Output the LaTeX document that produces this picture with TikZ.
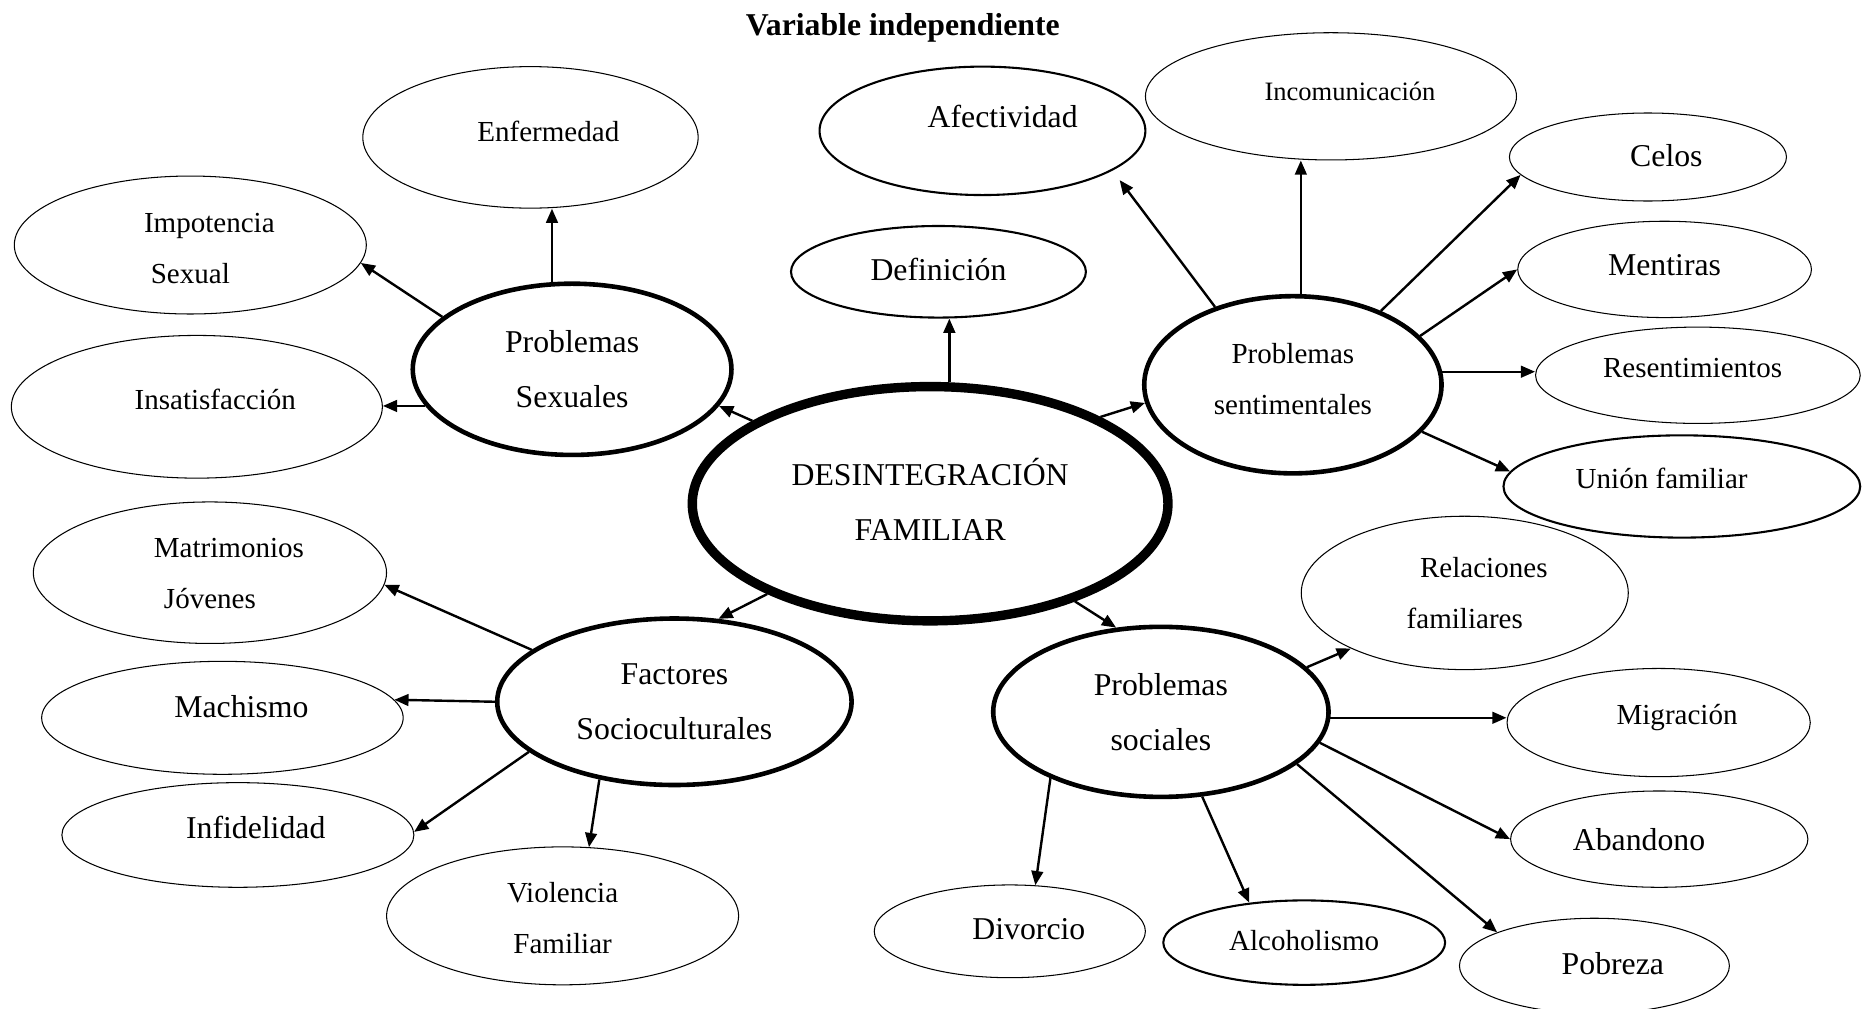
\documentclass[tikz,border=0pt]{standalone}
\usepackage{fontspec}
\setmainfont{Liberation Serif}
\usetikzlibrary{shapes.geometric,arrows.meta}

\tikzset{
  oval/.style={ellipse, draw, inner sep=0pt, line width=0.5pt},
  ovmid/.style={oval, line width=1pt},
  ovcat/.style={oval, line width=2.2pt},
  ovmain/.style={oval, line width=4.5pt},
  bigtxt/.style={font=\fontsize{15.2}{26.4}\selectfont},
  midtxt/.style={font=\fontsize{13.9}{24.4}\selectfont},
  smalltxt/.style={font=\fontsize{12.7}{22}\selectfont},
  every label/.style={align=center, inner sep=0pt},
  arr/.style={-{Triangle[length=6.8pt,width=5.6pt]}, line width=1.15pt}
}

\begin{document}
\begin{tikzpicture}[x=0.02cm, y=-0.02cm]
\useasboundingbox (0,0) rectangle (1568,848);

\node[font=\fontsize{15.2}{18}\selectfont\bfseries] (titulo) at (759,23.5) {Variable independiente};

% centro y categorias
\node[ovmain, minimum width=8cm, minimum height=3.94cm, label={[bigtxt, yshift=0.08cm]center:DESINTEGRACIÓN\\FAMILIAR}] (cen) at (782,423.5) {};
\node[ovcat, minimum width=5.36cm, minimum height=2.88cm, label={[bigtxt]center:Problemas\\Sexuales}] (ps) at (481,310.5) {};
\node[ovcat, minimum width=5cm, minimum height=2.98cm, label={[midtxt, yshift=0.09cm]center:Problemas\\sentimentales}] (psent) at (1087,323.5) {};
\node[ovcat, minimum width=5.96cm, minimum height=2.8cm, label={[bigtxt]center:Factores\\Socioculturales}] (fac) at (567,590) {};
\node[ovcat, minimum width=5.64cm, minimum height=2.86cm, label={[bigtxt]center:Problemas\\sociales}] (psoc) at (976,598.5) {};
\node[ovmid, minimum width=4.96cm, minimum height=1.54cm, label={[bigtxt, yshift=0.04cm]center:Definición}] (def) at (789,228.5) {};

% problemas sexuales
\node[oval, minimum width=5.64cm, minimum height=2.38cm, label={[midtxt, xshift=0.3cm, yshift=0.1cm]center:Enfermedad}] (enf) at (446,115.5) {};
\node[oval, minimum width=5.92cm, minimum height=2.32cm, label={[midtxt, yshift=-0.06cm]center:\hspace*{0.64cm}Impotencia\\Sexual}] (imp) at (160,206) {};
\node[oval, minimum width=6.24cm, minimum height=2.4cm, label={[midtxt, xshift=0.31cm, yshift=0.12cm]center:Insatisfacción}] (ins) at (165.5,342) {};

% problemas sentimentales
\node[ovmid, minimum width=5.48cm, minimum height=2.16cm, label={[bigtxt, xshift=0.34cm, yshift=0.24cm]center:Afectividad}] (afec) at (826,110) {};
\node[oval, minimum width=6.24cm, minimum height=2.14cm, label={[smalltxt, xshift=0.32cm, yshift=0.08cm]center:Incomunicación}] (inc) at (1119,81) {};
\node[oval, minimum width=4.66cm, minimum height=1.48cm, label={[bigtxt, xshift=0.31cm, yshift=0.02cm]center:Celos}] (celos) at (1385.5,132) {};
\node[oval, minimum width=4.94cm, minimum height=1.62cm, label={[bigtxt, yshift=0.07cm]center:Mentiras}] (ment) at (1399.5,226.5) {};
\node[oval, minimum width=5.46cm, minimum height=1.62cm, label={[midtxt, xshift=-0.09cm, yshift=0.12cm]center:Resentimientos}] (res) at (1427.5,315.5) {};
\node[ovmid, minimum width=6cm, minimum height=1.72cm, label={[midtxt, xshift=-0.34cm, yshift=0.14cm]center:Unión familiar}] (union) at (1414,409) {};

% problemas sociales
\node[oval, minimum width=5.5cm, minimum height=2.58cm, label={[midtxt]center:\hspace*{0.64cm}Relaciones\\familiares}] (rel) at (1231.5,498.5) {};
\node[oval, minimum width=5.1cm, minimum height=1.82cm, label={[midtxt, xshift=0.31cm, yshift=0.09cm]center:Migración}] (mig) at (1394.5,607.5) {};
\node[oval, minimum width=5cm, minimum height=1.62cm, label={[bigtxt, xshift=-0.34cm]center:Abandono}] (aban) at (1395,705.5) {};
\node[oval, minimum width=4.54cm, minimum height=1.6cm, label={[bigtxt, xshift=0.31cm, yshift=0.04cm]center:Pobreza}] (pob) at (1340.5,812) {};
\node[ovmid, minimum width=4.74cm, minimum height=1.42cm, label={[midtxt, yshift=0.03cm]center:Alcoholismo}] (alc) at (1096.5,792.5) {};
\node[oval, minimum width=4.56cm, minimum height=1.56cm, label={[bigtxt, xshift=0.32cm, yshift=0.04cm]center:Divorcio}] (div) at (849,783) {};

% factores socioculturales
\node[oval, minimum width=5.94cm, minimum height=2.38cm, label={[midtxt, yshift=-0.02cm]center:\hspace*{0.64cm}Matrimonios\\Jóvenes}] (mat) at (176.5,481.5) {};
\node[oval, minimum width=6.08cm, minimum height=1.9cm, label={[bigtxt, xshift=0.32cm, yshift=0.19cm]center:Machismo}] (mach) at (187,603.5) {};
\node[oval, minimum width=5.92cm, minimum height=1.76cm, label={[bigtxt, xshift=0.3cm, yshift=0.12cm]center:Infidelidad}] (inf) at (200,702) {};
\node[oval, minimum width=5.92cm, minimum height=2.32cm, label={[midtxt, yshift=-0.04cm]center:Violencia\\Familiar}] (viol) at (473,770) {};

% flechas
\draw[arr] (cen.155) -- (ps.-14);
\draw[arr] (cen.81) -- (cen.81 |- def.south);
\draw[arr] (cen.27) -- (psent.-173);
\draw[arr] (cen.-151) -- (fac.62);
\draw[arr] (cen.-34) -- (psoc.118);

\draw[arr] (ps.103) -- (ps.103 |- enf.south);
\draw[arr] (ps.158) -- (imp.-6);
\draw[arr] (ps.-166) -- (ps.-166 -| ins.east);

\draw[arr, shorten >=0.2cm] (psent.135) -- (afec.-17);
\draw[arr] (psent.85) -- (psent.85 |- inc.south);
\draw[arr] (psent.40) -- (celos.-172);
\draw[arr] (psent.21) -- (ment.west);
\draw[arr] (psent.5) -- (psent.5 -| res.west);
\draw[arr] (psent.-20) -- (union.175);

\draw[arr] (psoc.17) -- (rel.-154);
\draw[arr] (psoc.-2) -- (psoc.-2 -| mig.west);
\draw[arr] (psoc.-11) -- (aban.west);
\draw[arr] (psoc.-21) -- (pob.161);
\draw[arr] (psoc.-64) -- (alc.144);
\draw[arr] (psoc.-149) -- (div.61);

\draw[arr] (fac.160) -- (mat.-4);
\draw[arr] (fac.west) -- (mach.6);
\draw[arr] (fac.-161) -- (inf.1);
\draw[arr] (fac.-134) -- (viol.69);

\end{tikzpicture}
\end{document}
